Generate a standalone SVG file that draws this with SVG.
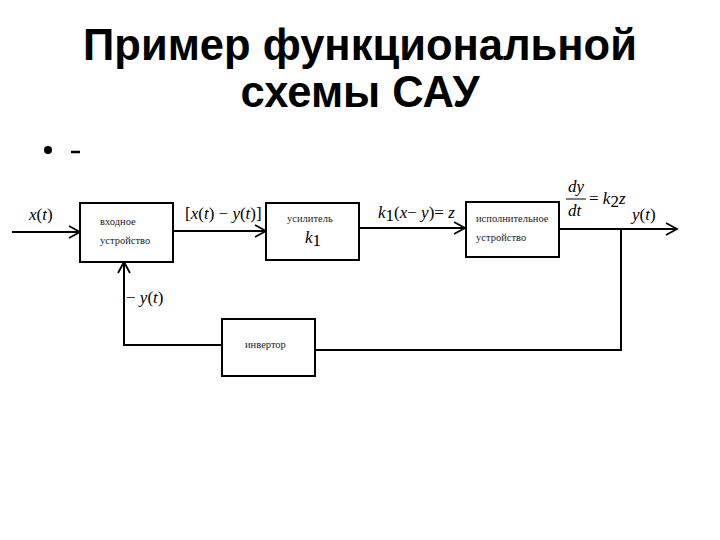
<svg xmlns="http://www.w3.org/2000/svg" width="720" height="540" viewBox="0 0 720 540">
<style>
.box{fill:#fff;stroke:#000;stroke-width:2}
.ln{fill:none;stroke:#000;stroke-width:2}
.title{font-family:"Liberation Sans",Arial,sans-serif;font-weight:bold;font-size:43.5px;fill:#000}
.lbl{font-family:"Liberation Serif","Times New Roman",serif;font-size:10.5px;fill:#222}
.m{font-family:"Liberation Serif","Times New Roman",serif;font-style:italic;font-size:17px;fill:#000}
.mu{font-family:"Liberation Serif","Times New Roman",serif;font-style:normal;font-size:17px;fill:#000}
</style>
<defs>
<marker id="ah" markerWidth="14" markerHeight="14" refX="12" refY="7" orient="auto" markerUnits="userSpaceOnUse">
<polyline points="1,1 12,7 1,13" fill="none" stroke="#000" stroke-width="1.8"/>
</marker>
</defs>
<rect width="720" height="540" fill="#fff"/>
<text class="title" x="360" y="60" text-anchor="middle">Пример функциональной</text>
<text class="title" x="360" y="107" text-anchor="middle">схемы САУ</text>
<circle cx="48" cy="150" r="4" fill="#000"/>
<line x1="71" y1="152" x2="80" y2="152" stroke="#000" stroke-width="2.5"/>
<g id="connectors">
<line class="ln" x1="12" y1="232" x2="80" y2="232" marker-end="url(#ah)"/>
<line class="ln" x1="173" y1="231" x2="266" y2="231" marker-end="url(#ah)"/>
<line class="ln" x1="359" y1="228" x2="465" y2="228" marker-end="url(#ah)"/>
<line class="ln" x1="559" y1="229" x2="677" y2="229" marker-end="url(#ah)"/>
<polyline class="ln" points="621,229 621,350 315,350"/>
<polyline class="ln" points="222,345 124,345 124,262" marker-end="url(#ah)"/>
</g>
<g id="n1">
<rect class="box" x="80" y="203" width="93" height="59"/>
<text class="lbl" x="100" y="225">входное</text>
<text class="lbl" x="100" y="244">устройство</text>
</g>
<g id="n2">
<rect class="box" x="266" y="203" width="93" height="57"/>
<text class="lbl" x="287" y="222">усилитель</text>
<text class="m" x="305" y="243" font-size="14">k<tspan class="mu" font-size="11" dy="3">1</tspan></text>
</g>
<g id="n3">
<rect class="box" x="466" y="202" width="93" height="55"/>
<text class="lbl" x="476" y="222">исполнительное</text>
<text class="lbl" x="476" y="241">устройство</text>
</g>
<g id="n4">
<rect class="box" x="222" y="319" width="93" height="57"/>
<text class="lbl" x="245" y="348">инвертор</text>
</g>
<g id="labels">
<text class="m" x="29" y="220">x<tspan class="mu">(</tspan>t<tspan class="mu">)</tspan></text>
<text class="m" x="185" y="219"><tspan class="mu">[</tspan>x<tspan class="mu">(</tspan>t<tspan class="mu">) − </tspan>y<tspan class="mu">(</tspan>t<tspan class="mu">)]</tspan></text>
<text class="m" x="378" y="218">k<tspan class="mu" font-size="10" dy="3">1</tspan><tspan class="mu" dy="-3">(</tspan>x<tspan class="mu">− </tspan>y<tspan class="mu">)= </tspan>z</text>
<text class="m" x="568" y="192">dy</text>
<line x1="566" y1="199" x2="586" y2="199" stroke="#000" stroke-width="1"/>
<text class="m" x="568" y="216">dt</text>
<text class="m" x="589" y="204"><tspan class="mu">= </tspan>k<tspan class="mu" font-size="10" dy="3">2</tspan><tspan dy="-3">z</tspan></text>
<text class="m" x="632" y="220">y<tspan class="mu">(</tspan>t<tspan class="mu">)</tspan></text>
<text class="m" x="126" y="303"><tspan class="mu">− </tspan>y<tspan class="mu">(</tspan>t<tspan class="mu">)</tspan></text>
</g>
</svg>
